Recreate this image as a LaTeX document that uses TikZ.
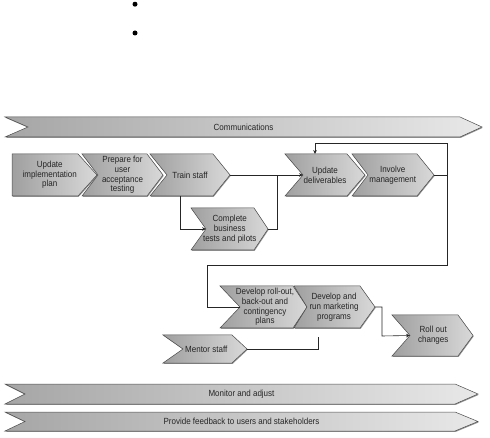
\documentclass[tikz,border=0pt]{standalone}
\usepackage{fontspec}
\setmainfont{Liberation Sans}
\newfontfamily\cf[FakeStretch=0.9]{Liberation Sans}
\usetikzlibrary{arrows.meta,shadows}
\tikzset{
  chevfill/.style={left color=gray!75, right color=gray!30, draw=black!70, line width=0.5pt,
    drop shadow={shadow xshift=0.7pt, shadow yshift=-0.8pt, fill=black!60, opacity=0.7}},
  barfill/.style={left color=gray!70, right color=gray!18, draw=black!70, line width=0.5pt,
    drop shadow={shadow xshift=0.7pt, shadow yshift=-0.9pt, fill=black!60, opacity=0.7}},
  lbl/.style={inner sep=0pt, align=center, font=\cf\fontsize{8.9}{9.7}\selectfont, text=black!85},
  conn/.style={draw=black!85, line width=0.6pt},
  arr/.style={conn, -{Stealth[length=4pt,width=3.6pt]}},
  bul/.style={circle, fill=black, inner sep=0pt, minimum size=5pt}
}
% name, x1, x2, xtip, top, bottom, notch, text
\newcommand\mychev[8]{%
  \path[chevfill] (#2,#5) -- (#3,#5) -- (#4,{(#5+#6)/2}) -- (#3,#6) -- (#2,#6) -- ({#2+#7},{(#5+#6)/2}) -- cycle;
  \coordinate (#1-in) at ({#2+#7},{(#5+#6)/2});
  \coordinate (#1-out) at (#4,{(#5+#6)/2});
  \node[lbl] (#1) at ({(#2+#7/2+(#3+#4)/2)/2},{(#5+#6)/2}) {#8};
}
\newcommand\mybar[8]{%
  \path[barfill] (#2,#5) -- (#3,#5) -- (#4,{(#5+#6)/2}) -- (#3,#6) -- (#2,#6) -- ({#2+#7},{(#5+#6)/2}) -- cycle;
  \node[lbl] (#1) at ({(#2+#4)/2},{(#5+#6)/2}) {#8};
}
\begin{document}
\begin{tikzpicture}[x=1pt,y=-1pt]
\useasboundingbox (0,0) rectangle (490,438);
\node[bul] (b1) at (135,4.2) {};
\node[bul] (b2) at (135,33) {};

\mybar{comm}{5}{460}{482}{117}{137}{23}{Communications}
\mybar{mon}{5}{455}{478}{384}{404}{20}{Monitor and adjust}
\mybar{feed}{5}{455}{478}{412}{431}{20}{Provide feedback to users and stakeholders}

\mychev{upd}{12}{78}{97}{154}{196}{0}{Update\\implementation\\plan}
\mychev{prep}{82}{147}{163}{154}{196}{16}{Prepare for\\user\\acceptance\\testing}
\mychev{train}{150}{213}{230}{154}{196}{17}{Train staff}
\mychev{comp}{191}{254}{268}{208}{250}{15}{Complete\\business\\tests and pilots}
\mychev{deliv}{285}{347}{365}{154}{196}{18}{Update\\deliverables}
\mychev{inv}{352}{417}{434}{154}{196}{16}{Involve\\management}
\mychev{roll}{220}{293}{307}{286}{328}{20}{Develop roll-out,\\back-out and\\contingency\\plans}
\mychev{mkt}{294}{360}{375}{286}{328}{13}{Develop and\\run marketing\\programs}
\mychev{rout}{392}{458}{473}{315}{356}{18}{Roll out\\changes}
\mychev{ment}{163}{232}{247}{335}{363}{20}{Mentor staff}

\coordinate (tb) at (180,196);
\coordinate (cj) at (277,175);
\coordinate (ij) at (447,175);
\coordinate (itop) at (447,143);
\coordinate (dtop) at (315,154);
\coordinate (rdown) at (447,265);
\coordinate (rleft) at (207,265);
\coordinate (mk) at (382,336);
\coordinate (mb) at (318,337);

\draw[arr] (train-out) -- (deliv-in);
\draw[arr] (tb) |- (comp-in);
\draw[conn] (comp-out) -| (cj);
\draw[conn] (inv-out) -- (ij) -- (rdown) -- (rleft) |- (roll-in);
\draw[arr] (ij) -- (itop) -| (dtop);
\draw[arr] (mkt-out) -| (mk) -- (rout-in);
\draw[conn] (ment-out) -| (mb);
\end{tikzpicture}
\end{document}
